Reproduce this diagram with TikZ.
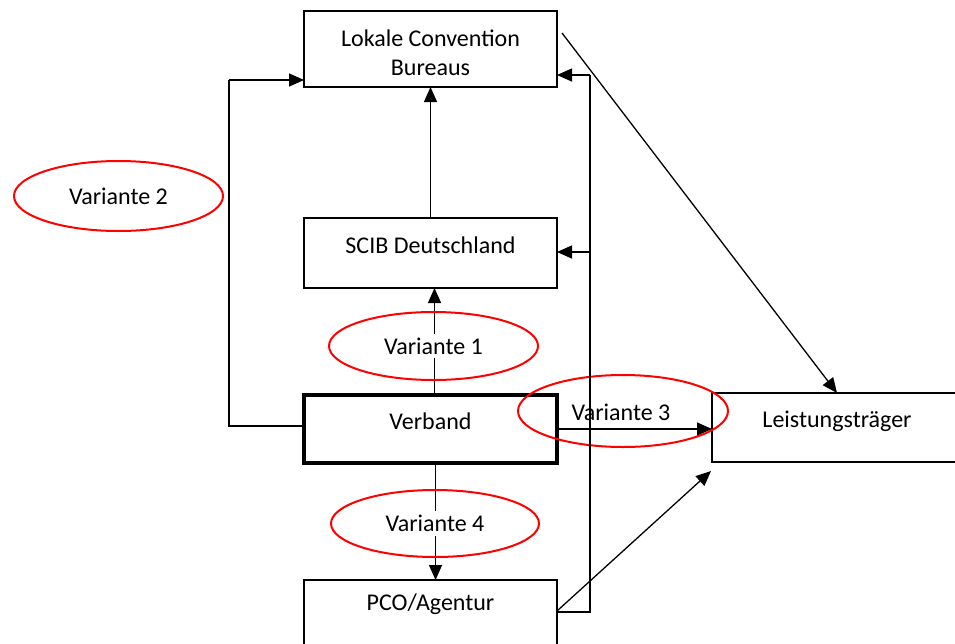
\documentclass[tikz,border=0pt]{standalone}
\usepackage{fontspec}
\setmainfont{Carlito}
\usetikzlibrary{arrows.meta,shapes.geometric}

\begin{document}
\begin{tikzpicture}[x=1pt,y=-1pt,
  every node/.style={font=\fontsize{24}{29}\selectfont, inner sep=0pt, outer sep=0pt},
  box/.style={draw, line width=2pt, minimum width=253pt},
  thickbox/.style={box, line width=4pt},
  variant/.style={draw=red, line width=2pt, ellipse, inner sep=0pt},
  vlabel/.style={fill=white, inner xsep=3pt, inner ysep=4pt},
  conn/.style={line width=1.3pt},
  arr/.style={conn, -{Triangle[length=15pt,width=13pt]}}]

\useasboundingbox (0,0) rectangle (955,643);
\clip (0,0) rectangle (955,643);

% boxes and their captions
\node[box, minimum height=76pt] (lok) at (430.5,49) {};
\node[align=center] (lokT) at (430.5,53) {Lokale Convention\\Bureaus};
\node[box, minimum height=70pt] (scib) at (430.5,253) {};
\node (scibT) at (430.5,245) {SCIB Deutschland};
\node[thickbox, minimum height=68pt] (verb) at (430.5,429) {};
\node (verbT) at (430.5,421) {Verband};
\node[box, minimum height=70pt] (pco) at (430.5,615) {};
\node (pcoT) at (430.5,604) {PCO/Agentur};
\node[box, minimum width=250pt, minimum height=69pt] (leis) at (837,427.5) {};
\node (leisT) at (837,421) {Leistungsträger};

% connector corners
\coordinate (lv) at (229,426);
\coordinate (lt) at (229,80);
\coordinate (rb) at (590,612);
\coordinate (rt) at (590,75);
\coordinate (rm) at (590,252);
\coordinate (ds) at (562,33);
\coordinate (ps) at (557,611);
\coordinate (pt) at (711,471);

% vertical chain
\draw[arr] (scib.north) -- (lok.south);
\draw[arr] ([xshift=4pt]verb.north) -- ([xshift=4pt]scib.south);
\draw[arr] ([xshift=5pt]verb.south) -- ([xshift=5pt]pco.north);

% Verband to the bureaus on the left
\draw[conn] (verb.west |- lv) -- (lv) -- (lt);
\draw[arr] (lt) -- (lok.west |- lt);

% links to Leistungsträger
\draw[arr] (ds) -- (leis.north);
\draw[arr] (verb.east) -- (leis.west |- verb.east);
\draw[arr] (ps) -- (pt);

% variants
\node[variant, minimum width=209pt, minimum height=70pt] (v2) at (118.5,196) {};
\node[vlabel] (v2t) at (v2) {Variante 2};
\node[variant, minimum width=209pt, minimum height=68pt] (v1) at (433.5,346) {};
\node[vlabel] (v1t) at (v1) {Variante 1};
\node[variant, minimum width=210pt, minimum height=72pt] (v3) at (623,411) {};
\node[vlabel] (v3t) at (621,412) {Variante 3};
\node[variant, minimum width=208pt, minimum height=67pt] (v4) at (435,523.5) {};
\node[vlabel] (v4t) at (v4) {Variante 4};

% return line from PCO/Agentur on the right
\draw[conn, line width=1.6pt] (pco.east |- rb) -- (rb) -- (rt);
\draw[arr] (rt) -- (lok.east |- rt);
\draw[arr] (rm) -- (scib.east |- rm);
\end{tikzpicture}
\end{document}
